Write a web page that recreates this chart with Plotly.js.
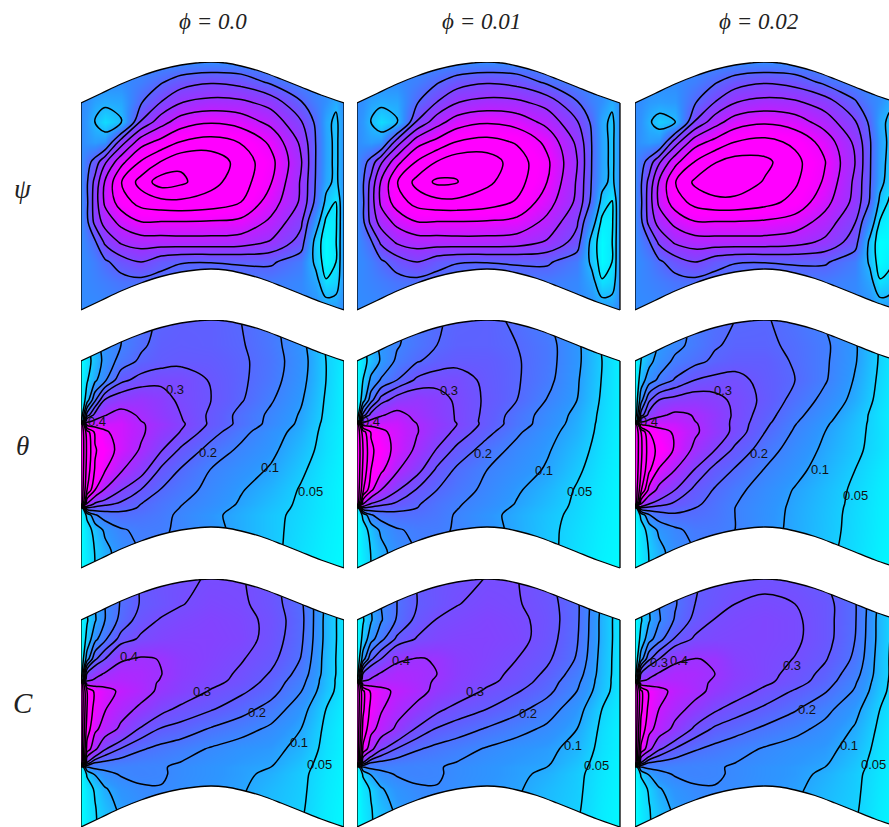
<!DOCTYPE html>
<html><head><meta charset="utf-8">
<script src="https://cdn.plot.ly/plotly-3.0.1.min.js"></script>
<style>html,body{margin:0;padding:0;background:#fff;overflow:hidden}</style>
</head><body><div id="chart" style="width:889px;height:827px"></div>
<script>
var columnTitles = ['\u03d5 = 0.0','\u03d5 = 0.01','\u03d5 = 0.02'];
var rowTitles = ['\u03c8','\u03b8','C'];
var edgeU = [0,20,40,60,80,100,115,130,145,160,180,200,220,240,263];
var topV = [41,31.5,22,14,7.5,3,1,0,1,4,9.5,17,25,33,41];
var bottomV = [248,238.5,229,221,214.5,210,208,207,208,211,216.5,224,232,240,248];
var psiU = [0,6,14,24,40,60,80,100,130,160,190,220,235,245,255,263];
var psiV = [0,20,40,60,80,100,120,140,160,180,200,220,249];
var fieldU = [0,6,14,24,40,60,80,100,130,160,190,220,245,263];
var fieldV = [0,25,41,60,80,95,101,104,112,130,150,170,184,188,195,210,230,249];

var psi1 = [
[0,0,0,0,0,0,0,0,0,0,0,0,0,0,0,0],
[0,0,0,0,0,.3,.9,1.5,1.9,1.65,.8,.2,0,0,0,0],
[0,-.1,-.5,-.7,-.6,.9,2,2.95,3.3,3.2,2.6,1.05,.3,-.1,-.7,0],
[0,-.3,-1.05,-1.8,-1.1,2.1,3.6,4.5,4.9,4.6,3.7,2.1,.8,-.6,-1.3,0],
[0,-.2,-.4,-.2,2.5,4.6,5.3,6.05,6.4,5.95,4.8,2.8,.95,-.5,-1.3,0],
[0,.6,1.4,2.85,4.7,6.1,7.05,7.8,7.7,6.6,5.3,3.1,.95,-.5,-1.3,0],
[0,.9,2.3,4.1,5.95,7.4,8.5,8.2,7.3,6.5,5.05,2.9,.9,-.6,-1.3,0],
[0,.85,2.5,4.2,5.5,6.4,6.7,6.8,6.6,6,4.5,2.85,.7,-1.3,-2.05,0],
[0,.8,2.3,3.4,4.3,4.98,4.95,4.95,4.9,4.75,3.8,2.2,-.4,-2.2,-2.15,0],
[0,.35,.85,2.2,3.15,3.5,3.55,3.6,3.6,3.5,2.9,1.6,-1.5,-2.5,-2.05,0],
[0,.1,.35,.8,1.5,2,1.35,1.05,1.02,1.1,1.15,.4,-1.3,-2.5,-2,0],
[0,.1,.2,.35,.6,.7,.6,.5,.5,.5,.4,.1,-.6,-1.9,-1.6,0],
[0,0,0,0,.1,.1,.1,.1,.1,.1,.1,0,0,-.2,-.2,0]];
var psi2 = [
[0,0,0,0,0,0,0,0,0,0,0,0,0,0,0,0],
[0,0,0,0,0,.3,.9,1.5,1.9,1.65,.8,.2,0,0,0,0],
[0,-.1,-.5,-.7,-.6,.9,2,2.95,3.3,3.2,2.6,1.05,.3,-.1,-.7,0],
[0,-.3,-1.05,-1.8,-1.1,2.1,3.6,4.5,4.9,4.6,3.7,2.1,.8,-.6,-1.3,0],
[0,-.2,-.4,-.2,2.5,4.6,5.3,6.05,6.35,5.9,4.75,2.8,.95,-.5,-1.3,0],
[0,.6,1.4,2.85,4.7,6.1,7.05,7.65,7.55,6.5,5.2,3.05,.95,-.5,-1.3,0],
[0,.9,2.3,4.1,5.95,7.35,8.2,8.05,7.2,6.4,5,2.9,.9,-.6,-1.3,0],
[0,.85,2.5,4.2,5.5,6.4,6.7,6.75,6.5,5.9,4.45,2.8,.7,-1.4,-2.1,0],
[0,.8,2.3,3.4,4.3,4.98,4.95,4.95,4.9,4.7,3.75,2.15,-.4,-2.25,-2.2,0],
[0,.35,.85,2.2,3.15,3.5,3.55,3.6,3.6,3.5,2.9,1.6,-1.5,-2.5,-2.05,0],
[0,.1,.35,.8,1.5,2,1.35,1.05,1.02,1.1,1.15,.4,-1.3,-2.5,-2,0],
[0,.1,.2,.35,.6,.7,.6,.5,.5,.5,.4,.1,-.6,-1.9,-1.6,0],
[0,0,0,0,.1,.1,.1,.1,.1,.1,.1,0,0,-.2,-.2,0]];
var psi3 = [
[0,0,0,0,0,0,0,0,0,0,0,0,0,0,0,0],
[0,0,0,0,0,.3,.9,1.5,1.9,1.6,.75,.2,0,0,0,0],
[0,-.05,-.3,-.4,-.3,.9,2,2.95,3.3,3.15,2.5,1.1,.3,-.1,-.7,0],
[0,-.2,-.85,-1.45,-1.05,2.1,3.6,4.5,4.85,4.5,3.55,2.1,.8,-.6,-1.3,0],
[0,-.2,-.4,-.2,2.5,4.6,5.3,6,6.3,5.8,4.6,2.8,1.1,-.4,-1.3,0],
[0,.6,1.4,2.85,4.7,6.05,6.95,7.4,7.25,6.3,5.05,3,1.1,-.5,-1.4,0],
[0,.9,2.3,4.1,5.95,7.2,7.7,7.7,6.9,6.15,4.85,2.8,1.05,-.6,-1.6,0],
[0,.85,2.5,4.2,5.5,6.35,6.7,6.7,6.35,5.7,4.35,2.7,.9,-1.3,-2.2,0],
[0,.8,2.3,3.4,4.3,4.95,4.95,4.95,4.85,4.55,3.6,2.05,-.2,-2.1,-2.4,0],
[0,.4,.9,2.2,3.15,3.55,3.6,3.6,3.6,3.4,2.8,1.5,-1.3,-2.6,-2.5,0],
[0,.1,.35,.8,1.5,2,1.35,1.05,1.02,1.1,1.12,.35,-1.2,-2.5,-2.2,0],
[0,.1,.2,.35,.6,.7,.6,.5,.5,.5,.4,.1,-.6,-1.9,-1.6,0],
[0,0,0,0,.1,.1,.1,.1,.1,.1,.1,0,0,-.2,-.2,0]];

var theta1 = [
[0,.04,.08,.12,.15,.18,.21,.22,.22,.2,.165,.11,.04,.01],
[0,.04,.08,.12,.15,.19,.22,.225,.22,.205,.17,.115,.045,.01],
[0,.03,.07,.115,.17,.21,.228,.235,.232,.21,.175,.12,.05,.02],
[0,.045,.09,.14,.235,.27,.285,.285,.245,.21,.17,.115,.05,.015],
[0,.075,.19,.305,.34,.355,.33,.285,.25,.205,.155,.105,.045,.015],
[0,.22,.32,.395,.44,.385,.34,.3,.24,.185,.14,.095,.042,.015],
[0,.36,.42,.44,.46,.4,.35,.305,.24,.185,.137,.092,.04,.015],
[1,.45,.45,.47,.47,.41,.36,.31,.24,.185,.135,.09,.038,.015],
[1,.75,.58,.51,.47,.415,.345,.297,.22,.165,.12,.083,.035,.014],
[1,.78,.61,.545,.47,.39,.305,.24,.18,.14,.11,.07,.033,.012],
[1,.76,.59,.505,.41,.325,.24,.195,.148,.12,.095,.057,.026,.01],
[1,.7,.5,.39,.302,.248,.197,.17,.135,.103,.078,.046,.022,.008],
[1,.38,.285,.262,.24,.2,.175,.152,.125,.095,.068,.043,.021,.008],
[0,.24,.235,.225,.21,.197,.172,.148,.12,.09,.065,.042,.021,.008],
[0,.06,.145,.175,.19,.18,.165,.14,.11,.085,.06,.04,.02,.007],
[0,.03,.065,.11,.145,.16,.158,.14,.115,.085,.06,.037,.017,.007],
[0,.025,.052,.085,.125,.15,.15,.135,.11,.085,.06,.033,.015,.006],
[0,.02,.05,.08,.12,.145,.145,.13,.105,.08,.055,.025,.012,.005]];
var theta2 = [
[0,.04,.08,.11,.14,.17,.195,.21,.215,.19,.155,.1,.035,.005],
[0,.04,.08,.11,.145,.175,.2,.215,.215,.2,.17,.11,.045,.01],
[0,.03,.07,.105,.16,.195,.22,.232,.23,.205,.17,.11,.05,.015],
[0,.05,.11,.155,.2,.26,.28,.28,.235,.205,.165,.105,.048,.015],
[0,.075,.18,.27,.33,.35,.325,.29,.24,.2,.148,.1,.044,.015],
[0,.22,.32,.39,.43,.375,.33,.295,.235,.178,.13,.088,.04,.015],
[0,.36,.42,.44,.45,.39,.34,.295,.232,.175,.128,.085,.039,.014],
[1,.45,.46,.47,.46,.4,.345,.3,.232,.175,.126,.083,.038,.014],
[1,.75,.59,.52,.47,.405,.335,.285,.215,.158,.115,.08,.036,.013],
[1,.8,.62,.55,.47,.38,.295,.235,.175,.135,.105,.068,.032,.012],
[1,.78,.6,.52,.41,.32,.24,.19,.15,.122,.095,.057,.027,.01],
[1,.72,.52,.4,.305,.245,.2,.172,.138,.105,.078,.046,.023,.008],
[1,.4,.29,.265,.24,.205,.178,.155,.128,.097,.07,.043,.021,.008],
[0,.24,.235,.225,.21,.2,.175,.152,.123,.092,.067,.042,.02,.008],
[0,.06,.145,.175,.19,.185,.17,.145,.113,.087,.062,.04,.019,.007],
[0,.03,.065,.11,.145,.16,.16,.145,.118,.087,.06,.036,.017,.007],
[0,.025,.052,.085,.125,.15,.152,.138,.112,.086,.06,.033,.015,.006],
[0,.02,.05,.08,.12,.145,.147,.133,.107,.081,.055,.025,.012,.005]];
var theta3 = [
[0,.04,.08,.11,.135,.16,.185,.2,.205,.18,.145,.09,.03,.005],
[0,.04,.08,.105,.135,.165,.195,.21,.21,.19,.16,.105,.045,.01],
[0,.05,.085,.12,.16,.185,.21,.225,.225,.194,.158,.104,.045,.015],
[0,.075,.125,.16,.205,.25,.265,.27,.23,.2,.155,.096,.041,.014],
[0,.13,.24,.3,.32,.335,.32,.287,.236,.183,.135,.086,.036,.012],
[0,.22,.32,.38,.42,.395,.345,.289,.222,.164,.118,.071,.031,.011],
[0,.36,.42,.44,.44,.4,.34,.286,.215,.156,.11,.068,.032,.011],
[1,.47,.47,.47,.46,.41,.34,.285,.21,.152,.106,.066,.032,.011],
[1,.8,.6,.53,.49,.415,.345,.282,.2,.143,.1,.063,.033,.011],
[1,.82,.65,.57,.49,.375,.3,.238,.172,.1275,.091,.059,.032,.011],
[1,.8,.62,.49,.4,.295,.23,.195,.147,.113,.081,.05,.024,.009],
[1,.72,.47,.37,.3,.235,.195,.163,.128,.097,.07,.043,.02,.008],
[1,.4,.3,.27,.24,.21,.18,.152,.122,.092,.067,.041,.019,.008],
[0,.24,.235,.225,.215,.2,.178,.15,.12,.091,.066,.04,.018,.008],
[0,.06,.145,.18,.195,.19,.175,.15,.119,.09,.065,.039,.018,.007],
[0,.03,.065,.11,.14,.165,.165,.15,.117,.089,.064,.038,.017,.007],
[0,.025,.052,.085,.125,.15,.155,.145,.112,.085,.06,.036,.015,.006],
[0,.02,.05,.08,.12,.145,.15,.14,.108,.08,.055,.03,.012,.005]];

var conc1 = [
[0,.05,.09,.14,.21,.26,.28,.29,.305,.305,.27,.2,.09,.02],
[0,.06,.1,.15,.205,.255,.275,.297,.32,.31,.275,.21,.09,.025],
[0,.045,.095,.15,.215,.275,.305,.32,.335,.32,.285,.215,.085,.025],
[0,.065,.135,.19,.27,.31,.33,.34,.34,.325,.28,.21,.085,.025],
[0,.125,.24,.3,.39,.41,.397,.36,.335,.305,.265,.198,.08,.025],
[0,.31,.37,.41,.44,.43,.402,.36,.325,.29,.245,.18,.08,.025],
[0,.38,.41,.44,.45,.43,.397,.355,.32,.285,.235,.17,.075,.025],
[1,.44,.45,.465,.46,.435,.39,.35,.315,.28,.23,.165,.075,.025],
[1,.7,.575,.53,.485,.44,.38,.345,.295,.26,.22,.152,.07,.025],
[1,.7,.56,.505,.44,.38,.32,.285,.255,.22,.18,.12,.05,.02],
[1,.65,.52,.46,.38,.29,.245,.23,.195,.17,.14,.1,.04,.015],
[1,.56,.42,.305,.245,.205,.185,.17,.145,.125,.115,.085,.035,.015],
[1,.28,.195,.185,.175,.165,.16,.148,.13,.115,.105,.07,.03,.012],
[0,.15,.165,.165,.16,.158,.155,.14,.125,.11,.1,.065,.03,.012],
[0,.055,.105,.135,.155,.16,.155,.14,.125,.11,.09,.06,.028,.012],
[0,.03,.055,.095,.125,.145,.148,.135,.12,.105,.08,.058,.025,.01],
[0,.025,.047,.075,.11,.13,.14,.13,.115,.1,.075,.055,.022,.008],
[0,.02,.045,.07,.1,.12,.13,.125,.11,.095,.07,.05,.02,.008]];
var conc2 = [
[0,.05,.09,.14,.205,.255,.275,.285,.302,.302,.265,.195,.09,.02],
[0,.06,.1,.15,.2,.25,.275,.298,.315,.305,.275,.21,.09,.025],
[0,.045,.095,.145,.205,.265,.303,.315,.33,.315,.28,.21,.085,.025],
[0,.065,.13,.185,.26,.305,.325,.335,.335,.32,.275,.205,.085,.025],
[0,.125,.24,.3,.385,.405,.395,.355,.33,.3,.26,.195,.08,.025],
[0,.31,.37,.41,.44,.425,.4,.355,.32,.285,.24,.175,.078,.025],
[0,.38,.41,.44,.445,.425,.393,.35,.315,.28,.23,.165,.075,.025],
[1,.44,.45,.465,.455,.43,.387,.345,.31,.275,.225,.16,.075,.025],
[1,.72,.58,.53,.48,.435,.375,.34,.29,.255,.215,.15,.07,.025],
[1,.72,.57,.51,.44,.375,.315,.28,.25,.215,.175,.12,.05,.02],
[1,.67,.53,.465,.38,.29,.245,.225,.195,.168,.14,.1,.04,.015],
[1,.58,.43,.31,.245,.205,.185,.17,.145,.125,.112,.083,.035,.015],
[1,.28,.195,.185,.175,.165,.16,.148,.13,.115,.105,.07,.03,.012],
[0,.15,.165,.165,.16,.158,.155,.14,.125,.11,.1,.065,.03,.012],
[0,.055,.105,.135,.155,.16,.155,.14,.125,.11,.09,.06,.028,.012],
[0,.03,.055,.095,.125,.145,.148,.135,.12,.105,.08,.058,.025,.01],
[0,.025,.047,.075,.11,.13,.14,.13,.115,.1,.075,.055,.022,.008],
[0,.02,.045,.07,.1,.12,.13,.125,.11,.095,.07,.05,.02,.008]];
var conc3 = [
[0,.05,.09,.135,.2,.245,.265,.275,.285,.28,.25,.185,.085,.02],
[0,.06,.1,.15,.195,.25,.275,.3,.31,.3,.27,.205,.085,.025],
[0,.045,.095,.145,.205,.265,.303,.315,.325,.31,.27,.205,.08,.025],
[0,.065,.13,.18,.255,.31,.32,.325,.325,.31,.27,.2,.08,.025],
[0,.125,.24,.3,.38,.402,.395,.345,.32,.298,.255,.19,.075,.025],
[0,.31,.37,.41,.44,.43,.4,.355,.32,.28,.235,.17,.075,.025],
[0,.38,.41,.44,.445,.425,.393,.35,.315,.275,.228,.16,.072,.025],
[1,.44,.45,.465,.455,.425,.387,.345,.31,.27,.222,.155,.07,.025],
[1,.72,.58,.53,.475,.43,.375,.335,.285,.245,.205,.145,.065,.025],
[1,.72,.57,.5,.435,.37,.31,.275,.24,.205,.165,.115,.05,.02],
[1,.67,.53,.46,.375,.285,.24,.22,.19,.165,.135,.095,.04,.015],
[1,.58,.43,.31,.245,.205,.185,.168,.145,.128,.115,.08,.033,.015],
[1,.28,.195,.185,.175,.165,.16,.15,.135,.12,.105,.068,.03,.012],
[0,.15,.165,.165,.16,.158,.155,.145,.128,.115,.1,.065,.03,.012],
[0,.055,.105,.135,.155,.16,.155,.145,.128,.115,.09,.06,.028,.012],
[0,.03,.055,.095,.125,.145,.148,.14,.125,.108,.082,.058,.025,.01],
[0,.025,.047,.075,.11,.13,.14,.133,.118,.1,.075,.055,.022,.008],
[0,.02,.045,.07,.1,.12,.13,.125,.11,.095,.07,.05,.02,.008]];

var thetaLabelText = ['0.3','0.2','0.1','0.05','0.4'];
var thetaLabelU = [[94,127,189,229,16],[92,126,187,222,14],[88,124,185,220,14]];
var thetaLabelV = [[69,132,147,171,101],[70,133,150,171,101],[70,133,149,175,101]];
var concLabelText = ['0.4','0.3','0.2','0.1','0.05'];
var concLabelU = [[48,121,176,218,238],[44,118,171,216,239],[44,157,172,214,238]];
var concLabelV = [[77,112,133,163,185],[81,112,134,166,186],[81,86,130,166,185]];
var col3ExtraLabel = {text:'0.3', u:24, v:83};

var coolScale = [[0,'rgb(0,255,255)'],[.2,'rgb(45,150,255)'],[.4,'rgb(95,95,255)'],[.6,'rgb(140,60,255)'],[.8,'rgb(190,30,255)'],[1,'rgb(255,0,255)']];
var psiScale = [[0,'rgb(0,255,255)'],[.317,'rgb(50,140,255)'],[.44,'rgb(90,100,255)'],[.56,'rgb(125,70,255)'],[.68,'rgb(155,50,255)'],[.8,'rgb(190,30,255)'],[.93,'rgb(240,5,255)'],[1,'rgb(255,0,255)']];
var cols = [{left:81,width:263,range:263},{left:357,width:264,range:264},{left:635,width:254,range:254}];
var rows = [{top:62,height:249,range:249},{top:320,height:250,range:250},{top:579,height:248,range:248}];
var H = 827, W = 889;
var fields = [[psi1,psi2,psi3],[theta1,theta2,theta3],[conc1,conc2,conc3]];
var scaleMax = [5.6,.55,.6], scaleMin = [-2.6,0,0];

var data = [], layout = {width:W,height:H,margin:{l:0,r:0,t:0,b:0},paper_bgcolor:'#fff',plot_bgcolor:'#fff',showlegend:false,annotations:[]};
var lineStyle = {color:'#000',width:1.5,smoothing:1};
function contour(xa,ya,u,v,z,row,first,start,end,size){
  var t = {type:'contour',xaxis:xa,yaxis:ya,x:u,y:v,z:z,showscale:false,hoverinfo:'skip',autocontour:false,
    line:lineStyle,contours:{start:start,end:end,size:size,coloring:first?'heatmap':'none',showlabels:false}};
  if(first){t.colorscale=row===0?psiScale:coolScale;t.zauto=false;t.zmin=scaleMin[row];t.zmax=scaleMax[row];t.zsmooth='best';}
  return t;
}
var n = 0;
rows.forEach(function(R,r){cols.forEach(function(C,c){
  n++;
  var xa='x'+(n>1?n:''), ya='y'+(n>1?n:'');
  layout['xaxis'+(n>1?n:'')]={domain:[C.left/W,(C.left+C.width)/W],range:[0,C.range],visible:false,fixedrange:true,anchor:ya};
  layout['yaxis'+(n>1?n:'')]={domain:[(H-R.top-R.height)/H,(H-R.top)/H],range:[R.range,0],visible:false,fixedrange:true,anchor:xa};
  var z = fields[r][c];
  if(r===0){
    data.push(contour(xa,ya,psiU,psiV,z,r,true,1,8,1));
    data.push(contour(xa,ya,psiU,psiV,z,r,false,-2,-1,1));
  }else{
    data.push(contour(xa,ya,fieldU,fieldV,z,r,true,.05,.3,.05));
    data.push(contour(xa,ya,fieldU,fieldV,z,r,false,.4,.9,.1));
  }
  var base={type:'scatter',mode:'lines',xaxis:xa,yaxis:ya,hoverinfo:'skip'};
  data.push(Object.assign({},base,{x:edgeU.concat([263,0,0]),y:topV.concat([-10,-10,topV[0]]),fill:'toself',fillcolor:'#fff',line:{width:0}}));
  data.push(Object.assign({},base,{x:edgeU.concat([263,0,0]),y:bottomV.concat([260,260,bottomV[0]]),fill:'toself',fillcolor:'#fff',line:{width:0}}));
  var edge={color:'#000',width:1.3,shape:'spline',smoothing:.8};
  data.push(Object.assign({},base,{x:edgeU,y:topV,line:edge}));
  data.push(Object.assign({},base,{x:edgeU,y:bottomV,line:edge}));
  var wall={color:'#000',width:1.3};
  data.push(Object.assign({},base,{x:[0,0],y:[topV[0],bottomV[0]],line:wall}));
  data.push(Object.assign({},base,{x:[263,263],y:[topV[14],bottomV[14]],line:wall}));
  function label(t,u,v){layout.annotations.push({xref:xa,yref:ya,x:u,y:v,xanchor:'center',yanchor:'middle',text:t,showarrow:false,font:{family:'Liberation Sans',size:13,color:'#111'}});}
  if(r===1){thetaLabelText.forEach(function(t,i){label(t,thetaLabelU[c][i],thetaLabelV[c][i]);});}
  if(r===2){concLabelText.forEach(function(t,i){label(t,concLabelU[c][i],concLabelV[c][i]);});
    if(c===2){label(col3ExtraLabel.text,col3ExtraLabel.u,col3ExtraLabel.v);}}
});});
var titleX=[213,482,758];
columnTitles.forEach(function(t,i){layout.annotations.push({xref:'paper',yref:'paper',x:titleX[i]/W,y:1-22/H,xanchor:'center',yanchor:'middle',text:'<i>'+t+'</i>',showarrow:false,font:{family:'Liberation Serif',size:23,color:'#222'}});});
var rowY=[189,446,703], rowX=[23,22,23], rowSize=[27,27,29];
rowTitles.forEach(function(t,i){layout.annotations.push({xref:'paper',yref:'paper',x:rowX[i]/W,y:1-rowY[i]/H,xanchor:'center',yanchor:'middle',text:'<i>'+t+'</i>',showarrow:false,font:{family:'Liberation Serif',size:rowSize[i],color:'#222'}});});
Plotly.newPlot('chart',data,layout,{displayModeBar:false,staticPlot:true});
</script></body></html>
